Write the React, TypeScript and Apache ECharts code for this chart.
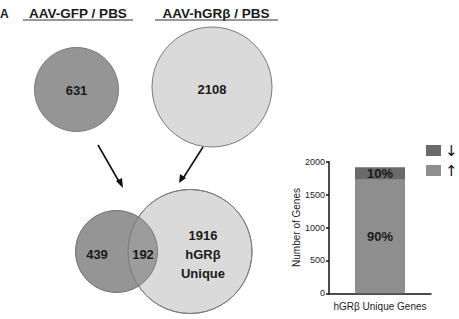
import React, { useEffect, useRef } from "react";
import * as echarts from "echarts";

const panelLetter = "A";
const vennTitles = ["AAV-GFP / PBS", "AAV-hGRβ / PBS"];
const setTotals = [631, 2108];
const overlapCounts = [439, 192, 1916];
const uniqueLabel = ["hGRβ", "Unique"];

const barCategories = ["hGRβ Unique Genes"];
const upValues = [1724];
const downValues = [192];
const upPct = ["90%"];
const downPct = ["10%"];
const legendNames = ["↓", "↑"];
const yTicks = { min: 0, max: 2000, interval: 500 };

const FONT = "'Liberation Sans', Arial, sans-serif";
const DARK = "#959595";
const LIGHT = "#dadada";
const EDGE = "#7a7a7a";

export default function App() {
  const ref = useRef<HTMLDivElement>(null);
  useEffect(() => {
    const chart = echarts.init(ref.current!, null, { renderer: "svg" });
    const bold = (text: string, x: number, y: number, size = 13) => ({
      type: "text",
      x,
      y,
      style: {
        text,
        fontFamily: FONT,
        fontWeight: "bold",
        fontSize: size,
        fill: "#1a1a1a",
        align: "center",
        verticalAlign: "middle",
      },
    });
    const graphic: any[] = [
      {
        type: "text",
        x: 0,
        y: 14,
        style: { text: panelLetter, fontFamily: FONT, fontWeight: "bold", fontSize: 12, fill: "#1a1a1a", verticalAlign: "middle" },
      },
      bold(vennTitles[0], 78, 13, 13.5),
      { type: "line", shape: { x1: 23, y1: 20, x2: 133, y2: 20 }, style: { stroke: "#333", lineWidth: 1 } },
      bold(vennTitles[1], 216, 13, 13.5),
      { type: "line", shape: { x1: 155, y1: 20, x2: 278, y2: 20 }, style: { stroke: "#333", lineWidth: 1 } },
      { type: "circle", shape: { cx: 76.5, cy: 89.5, r: 42 }, style: { fill: DARK, stroke: EDGE, lineWidth: 1 } },
      bold(String(setTotals[0]), 76.5, 90),
      { type: "circle", shape: { cx: 212, cy: 87, r: 60 }, style: { fill: LIGHT, stroke: EDGE, lineWidth: 1 } },
      bold(String(setTotals[1]), 212, 89),
      { type: "line", shape: { x1: 98, y1: 145, x2: 121, y2: 185 }, style: { stroke: "#111", lineWidth: 1.6 } },
      { type: "polygon", shape: { points: [[123, 188], [116, 181], [122, 178]] }, style: { fill: "#111" } },
      { type: "line", shape: { x1: 203, y1: 147, x2: 182, y2: 180 }, style: { stroke: "#111", lineWidth: 1.6 } },
      { type: "polygon", shape: { points: [[179, 183], [180, 174], [186, 178]] }, style: { fill: "#111" } },
      { type: "circle", shape: { cx: 190, cy: 251.5, r: 62 }, style: { fill: LIGHT, stroke: EDGE, lineWidth: 1 } },
      { type: "circle", shape: { cx: 116.5, cy: 251.5, r: 41 }, style: { fill: DARK, stroke: "#6e6e6e", lineWidth: 1 } },
      { type: "circle", shape: { cx: 190, cy: 251.5, r: 62 }, style: { fill: "rgba(230,230,230,0.1)", stroke: EDGE, lineWidth: 1 } },
      bold(String(overlapCounts[0]), 97, 254),
      bold(String(overlapCounts[1]), 143, 254),
      bold(String(overlapCounts[2]), 203, 235),
      bold(uniqueLabel[0], 203, 254),
      bold(uniqueLabel[1], 203, 273),
    ];

    chart.setOption({
      animation: false,
      textStyle: { fontFamily: FONT },
      graphic,
      legend: {
        data: legendNames,
        orient: "vertical",
        left: 426,
        top: 143,
        itemWidth: 15,
        itemHeight: 11,
        itemGap: 5,
        icon: "rect",
        inactiveColor: "#222",
        textStyle: { fontSize: 15, color: "#111111", fontFamily: "'DejaVu Sans', sans-serif", padding: [0, 0, 0, -1] },
        padding: 0,
      },
      grid: { left: 329, right: 28, top: 161.7, bottom: 25.7, containLabel: false },
      xAxis: {
        type: "category",
        data: barCategories,
        axisLine: { lineStyle: { color: "#111", width: 1.5 } },
        axisTick: { alignWithLabel: true, length: 3, lineStyle: { color: "#111", width: 1.5 } },
        axisLabel: { fontSize: 10, color: "#222", margin: 8, fontFamily: FONT },
      },
      yAxis: {
        type: "value",
        min: yTicks.min,
        max: yTicks.max,
        interval: yTicks.interval,
        name: "Number of Genes",
        nameLocation: "middle",
        nameGap: 28,
        nameTextStyle: { fontSize: 10, color: "#222", fontFamily: FONT },
        splitLine: { show: false },
        axisLine: { show: true, lineStyle: { color: "#111", width: 1.5 } },
        axisTick: { show: true, length: 3, lineStyle: { color: "#111", width: 1.5 } },
        axisLabel: { fontSize: 9, color: "#222", margin: 4, fontFamily: FONT, formatter: (v: number) => String(v) },
      },
      series: [
        {
          name: legendNames[1],
          type: "bar",
          stack: "g",
          barWidth: 50,
          data: upValues,
          itemStyle: { color: "#8e8e8e" },
          label: {
            show: true,
            position: "inside",
            formatter: (p: any) => upPct[p.dataIndex],
            fontSize: 13,
            fontWeight: "bold",
            color: "#1a1a1a",
            fontFamily: FONT,
          },
        },
        {
          name: legendNames[0],
          type: "bar",
          stack: "g",
          barWidth: 50,
          data: downValues,
          itemStyle: { color: "#6a6a6a" },
          label: {
            show: true,
            position: "inside",
            formatter: (p: any) => downPct[p.dataIndex],
            fontSize: 13,
            fontWeight: "bold",
            color: "#1a1a1a",
            fontFamily: FONT,
          },
        },
      ],
    });
    return () => chart.dispose();
  }, []);
  return <div ref={ref} style={{ width: 459, height: 319, position: "absolute", left: 0, top: 0 }} />;
}
